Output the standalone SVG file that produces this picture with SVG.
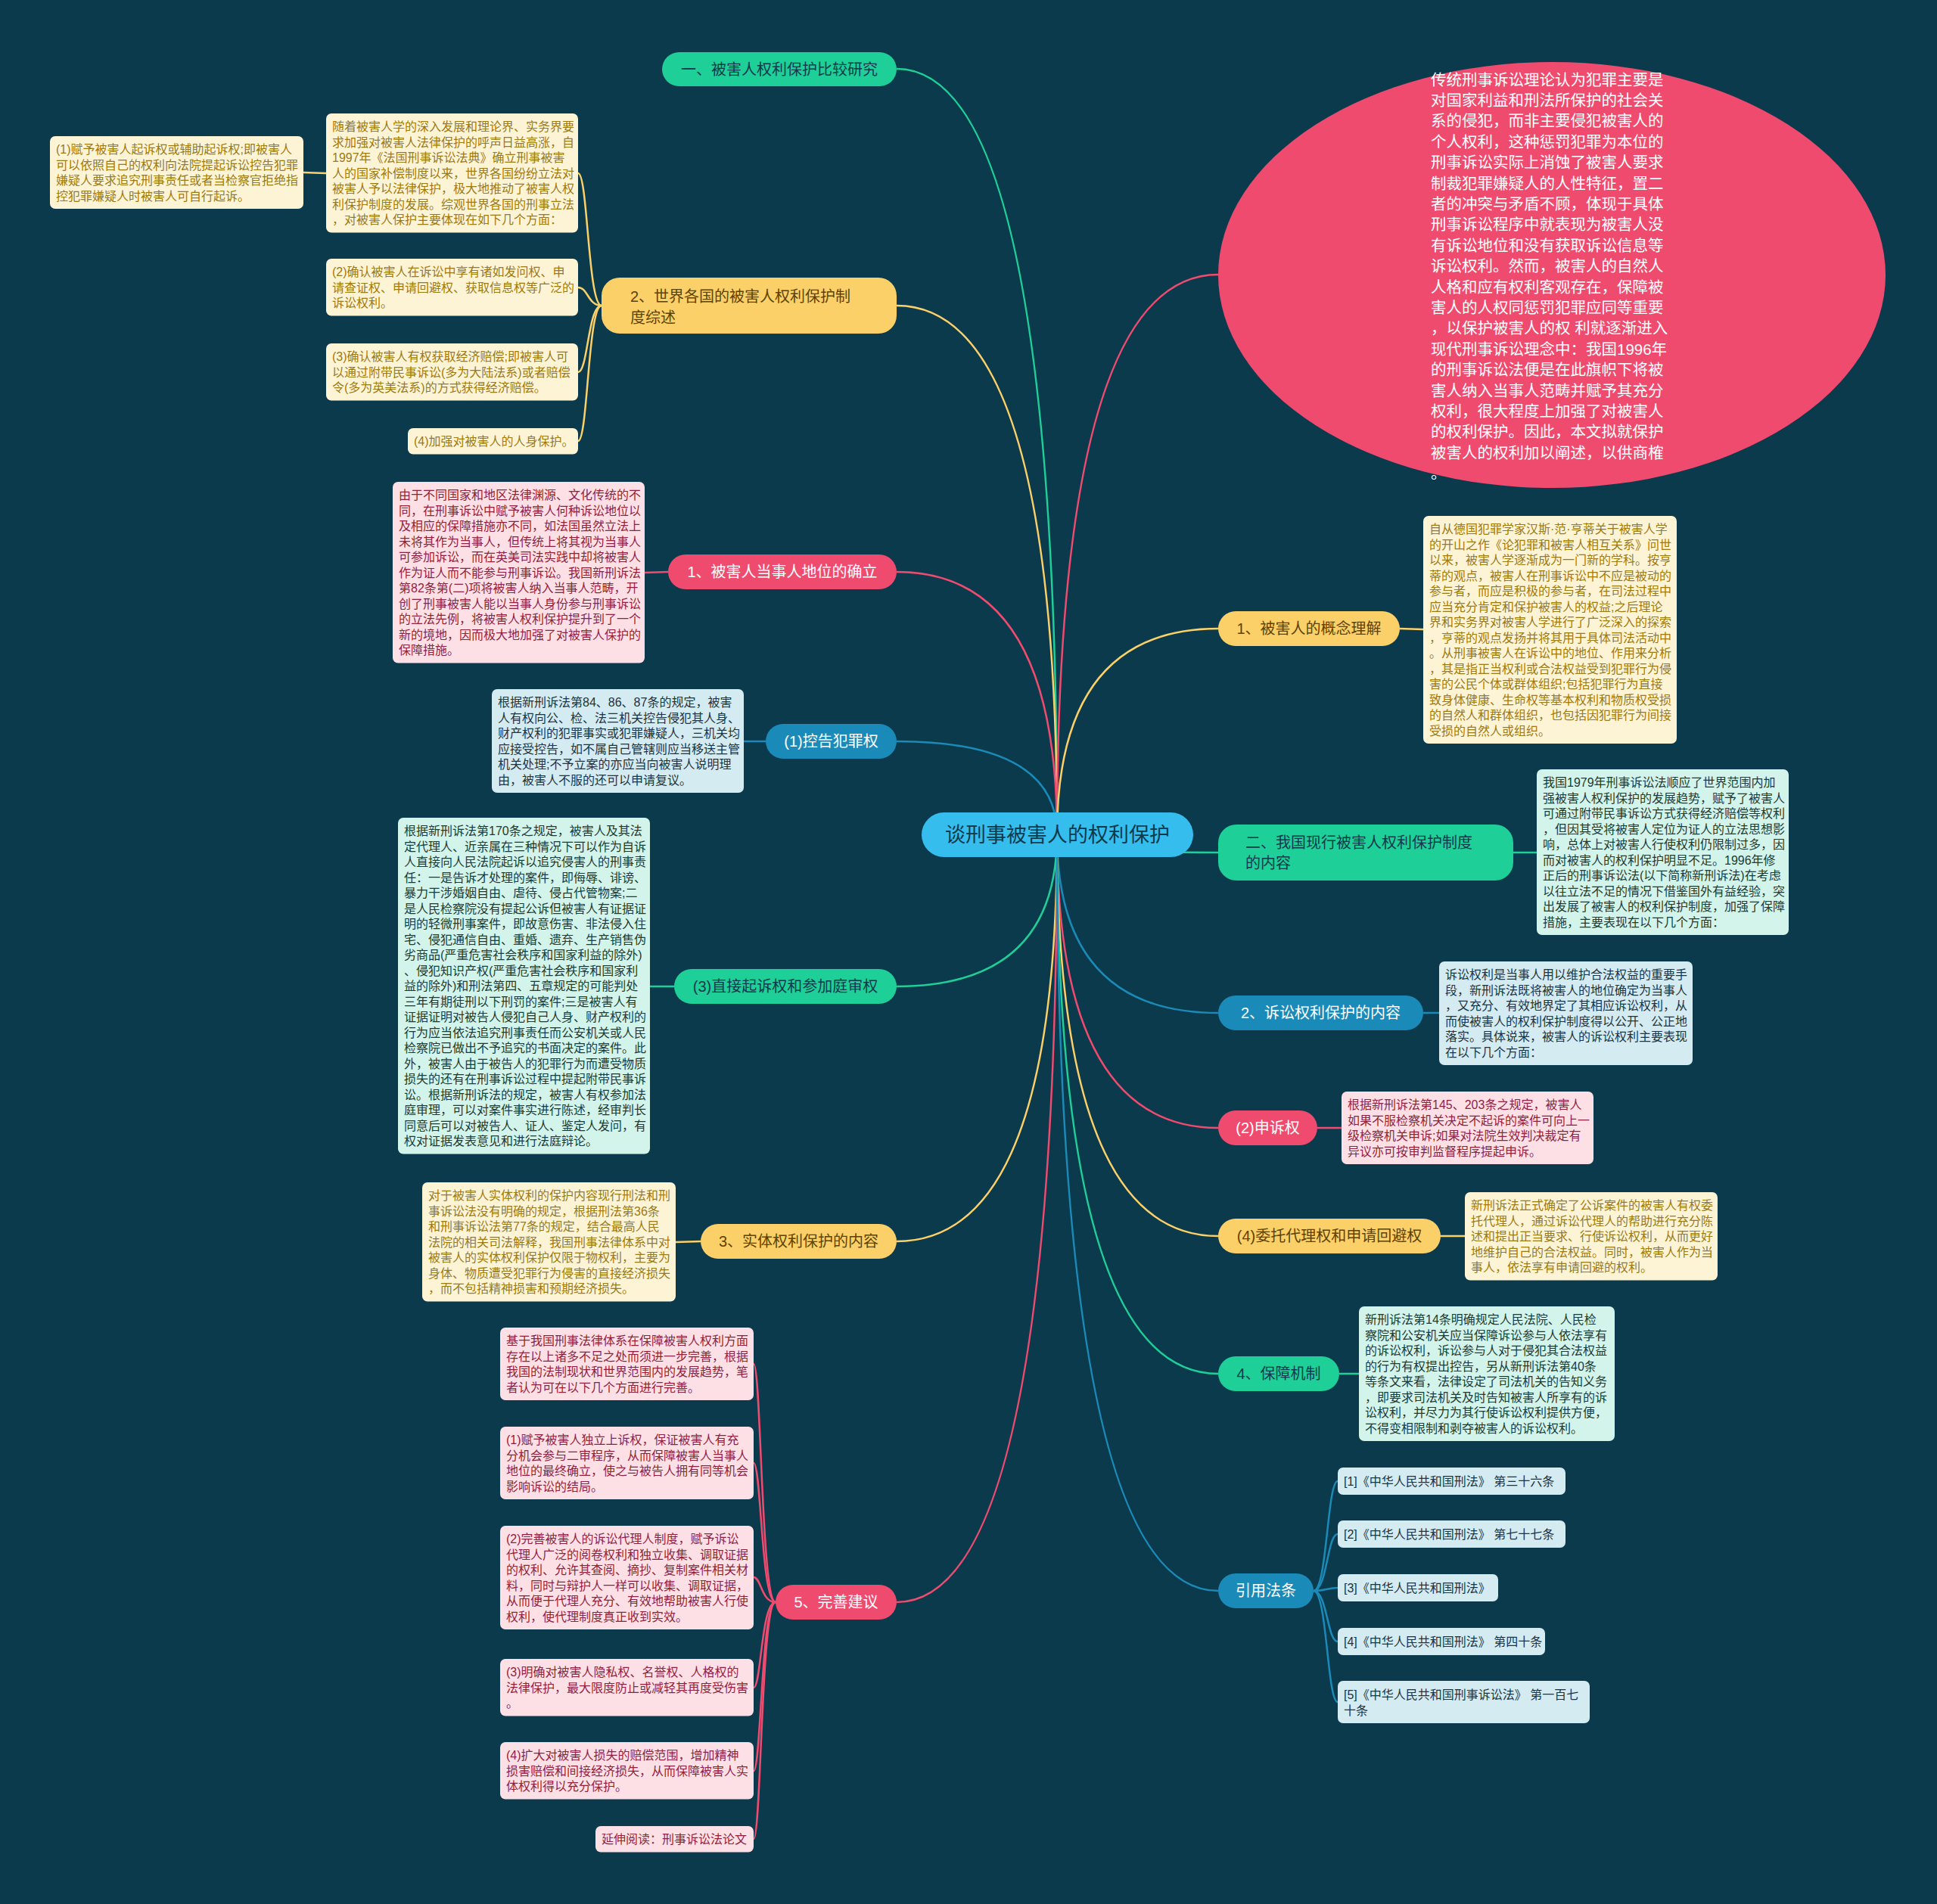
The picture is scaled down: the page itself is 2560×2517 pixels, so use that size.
<svg xmlns="http://www.w3.org/2000/svg" width="2560" height="2517" viewBox="0 0 2560 2517">
<style>
text{font-family:"Liberation Sans","Noto Sans CJK SC",sans-serif;dominant-baseline:central}
.lf{font-size:16px}
.nd{font-size:20px}
.c{fill:none;stroke-width:2.5}
.cP{stroke:#ef4b6f}.cY{stroke:#fcd068}.cG{stroke:#1fcf98}.cB{stroke:#1a8bb8}
.fP{fill:#ef4b6f}.fY{fill:#fcd068}.fG{fill:#1fcf98}.fB{fill:#1a8bb8}
.tW{fill:#ffffff}.tD{fill:#0d3b4c}.tY{fill:#5e4300}
.bC{fill:#fdf4d6}.bP{fill:#fde0e6}.bB{fill:#d4ebf2}.bG{fill:#d2f4ea}
.tC{fill:#9c7a12}.tP{fill:#8f1f40}.tB{fill:#1d3340}.tG{fill:#1d3a35}
</style>
<rect width="2560" height="2517" fill="#0b3a4d"/>

<g id="connectors">
<path class="c cG" d="M1397,1103 Q1397,91 1185,91"/>
<path class="c cY" d="M1397,1103 Q1397,404 1185,404"/>
<path class="c cP" d="M1397,1103 Q1397,756 1185,756"/>
<path class="c cB" d="M1397,1103 Q1397,980 1185,980"/>
<path class="c cG" d="M1397,1103 Q1397,1304 1185,1304"/>
<path class="c cY" d="M1397,1103 Q1397,1641 1185,1641"/>
<path class="c cP" d="M1397,1103 Q1397,2118 1185,2118"/>
<path class="c cP" d="M1397,1103 Q1397,363 1610,363"/>
<path class="c cY" d="M1397,1103 Q1397,831 1610,831"/>
<path class="c cG" d="M1397,1103 Q1397,1127 1610,1127"/>
<path class="c cB" d="M1397,1103 Q1397,1339 1610,1339"/>
<path class="c cP" d="M1397,1103 Q1397,1491 1610,1491"/>
<path class="c cY" d="M1397,1103 Q1397,1634 1610,1634"/>
<path class="c cG" d="M1397,1103 Q1397,1816 1610,1816"/>
<path class="c cB" d="M1397,1103 Q1397,2103 1610,2103"/>
<!-- 2、世界各国 bracket -->
<path class="c cY" d="M795,404 C777,404 777,229 764,229"/>
<path class="c cY" d="M795,404 C777,404 777,380 764,380"/>
<path class="c cY" d="M795,404 C777,404 777,492 764,492"/>
<path class="c cY" d="M795,404 C777,404 777,583 764,583"/>
<path class="c cY" d="M431,229 L401,228"/>
<!-- leaf lines -->
<path class="c cP" d="M883,756 L852,757"/>
<path class="c cB" d="M1012,980 L983,980"/>
<path class="c cG" d="M891,1304 L859,1304"/>
<path class="c cY" d="M926,1641 L893,1642"/>
<path class="c cY" d="M1850,831 L1881,832"/>
<path class="c cG" d="M2000,1127 L2031,1127"/>
<path class="c cB" d="M1881,1339 L1902,1339"/>
<path class="c cP" d="M1741,1491 L1773,1491"/>
<path class="c cY" d="M1904,1634 L1936,1634"/>
<path class="c cG" d="M1770,1816 L1796,1816"/>
<!-- 5、完善建议 bracket -->
<path class="c cP" d="M1025,2118 C1006,2118 1006,1803 996,1803"/>
<path class="c cP" d="M1025,2118 C1006,2118 1006,1934 996,1934"/>
<path class="c cP" d="M1025,2118 C1006,2118 1006,2085 996,2085"/>
<path class="c cP" d="M1025,2118 C1006,2118 1006,2231 996,2231"/>
<path class="c cP" d="M1025,2118 C1006,2118 1006,2341 996,2341"/>
<path class="c cP" d="M1025,2118 C1006,2118 1006,2431 996,2431"/>
<!-- 引用法条 bracket -->
<path class="c cB" d="M1736,2103 C1754,2103 1754,1958 1768,1958"/>
<path class="c cB" d="M1736,2103 C1754,2103 1754,2028 1768,2028"/>
<path class="c cB" d="M1736,2103 C1754,2103 1754,2099 1768,2099"/>
<path class="c cB" d="M1736,2103 C1754,2103 1754,2170 1768,2170"/>
<path class="c cB" d="M1736,2103 C1754,2103 1754,2250 1768,2250"/>
</g>

<g id="center">
<rect x="1218" y="1074" width="359" height="59" rx="29.5" fill="#35bdee"/>
<text x="1397.5" y="1103.5" font-size="27" text-anchor="middle" class="tD">谈刑事被害人的权利保护</text>
</g>

<g id="n-compare">
<rect x="875" y="69" width="310" height="45" rx="22.5" class="fG"/>
<text x="1030" y="91.5" class="nd tD" text-anchor="middle">一、被害人权利保护比较研究</text>
</g>
<g id="n-world">
<rect x="795" y="367" width="390" height="74" rx="24" class="fY"/>
<text class="nd tY"><tspan x="833" y="392">2、世界各国的被害人权利保护制</tspan><tspan x="833" y="420">度综述</tspan></text>
</g>
<g id="n-status">
<rect x="883" y="733" width="302" height="46" rx="23" class="fP"/>
<text x="1034" y="756" class="nd tW" text-anchor="middle">1、被害人当事人地位的确立</text>
</g>
<g id="n-accuse">
<rect x="1012" y="957" width="173" height="46" rx="23" class="fB"/>
<text x="1098.5" y="980" class="nd tW" text-anchor="middle">(1)控告犯罪权</text>
</g>
<g id="n-direct">
<rect x="891" y="1281" width="294" height="46" rx="23" class="fG"/>
<text x="1038" y="1304" class="nd tD" text-anchor="middle">(3)直接起诉权和参加庭审权</text>
</g>
<g id="n-substantive">
<rect x="926" y="1618" width="259" height="46" rx="23" class="fY"/>
<text x="1055.5" y="1641" class="nd tY" text-anchor="middle">3、实体权利保护的内容</text>
</g>
<g id="n-suggest">
<rect x="1025" y="2095" width="160" height="46" rx="23" class="fP"/>
<text x="1105" y="2118" class="nd tW" text-anchor="middle">5、完善建议</text>
</g>

<g id="n-intro">
<ellipse cx="2051" cy="363.5" rx="441" ry="281.5" class="fP"/>
<text font-size="20.5" class="tW">
<tspan x="1891" y="104.5">传统刑事诉讼理论认为犯罪主要是</tspan>
<tspan x="1891" y="131.9">对国家利益和刑法所保护的社会关</tspan>
<tspan x="1891" y="159.3">系的侵犯，而非主要侵犯被害人的</tspan>
<tspan x="1891" y="186.7">个人权利，这种惩罚犯罪为本位的</tspan>
<tspan x="1891" y="214.1">刑事诉讼实际上消蚀了被害人要求</tspan>
<tspan x="1891" y="241.5">制裁犯罪嫌疑人的人性特征，置二</tspan>
<tspan x="1891" y="268.9">者的冲突与矛盾不顾，体现于具体</tspan>
<tspan x="1891" y="296.3">刑事诉讼程序中就表现为被害人没</tspan>
<tspan x="1891" y="323.7">有诉讼地位和没有获取诉讼信息等</tspan>
<tspan x="1891" y="351.1">诉讼权利。然而，被害人的自然人</tspan>
<tspan x="1891" y="378.5">人格和应有权利客观存在，保障被</tspan>
<tspan x="1891" y="405.9">害人的人权同惩罚犯罪应同等重要</tspan>
<tspan x="1891" y="433.3">，以保护被害人的权 利就逐渐进入</tspan>
<tspan x="1891" y="460.7">现代刑事诉讼理念中：我国1996年</tspan>
<tspan x="1891" y="488.1">的刑事诉讼法便是在此旗帜下将被</tspan>
<tspan x="1891" y="515.5">害人纳入当事人范畴并赋予其充分</tspan>
<tspan x="1891" y="542.9">权利，很大程度上加强了对被害人</tspan>
<tspan x="1891" y="570.3">的权利保护。因此，本文拟就保护</tspan>
<tspan x="1891" y="597.7">被害人的权利加以阐述，以供商榷</tspan>
<tspan x="1891" y="625.1">。</tspan>
</text>
</g>
<g id="n-concept">
<rect x="1610" y="808" width="240" height="46" rx="23" class="fY"/>
<text x="1730" y="831" class="nd tY" text-anchor="middle">1、被害人的概念理解</text>
</g>
<g id="n-current">
<rect x="1610" y="1090" width="390" height="74" rx="24" class="fG"/>
<text class="nd tD"><tspan x="1646" y="1113.5">二、我国现行被害人权利保护制度</tspan><tspan x="1646" y="1141">的内容</tspan></text>
</g>
<g id="n-procedural">
<rect x="1610" y="1316" width="271" height="46" rx="23" class="fB"/>
<text x="1745.5" y="1339" class="nd tW" text-anchor="middle">2、诉讼权利保护的内容</text>
</g>
<g id="n-appeal">
<rect x="1610" y="1468" width="131" height="46" rx="23" class="fP"/>
<text x="1675.5" y="1491" class="nd tW" text-anchor="middle">(2)申诉权</text>
</g>
<g id="n-agent">
<rect x="1610" y="1611" width="294" height="46" rx="23" class="fY"/>
<text x="1757" y="1634" class="nd tY" text-anchor="middle">(4)委托代理权和申请回避权</text>
</g>
<g id="n-guarantee">
<rect x="1610" y="1793" width="160" height="46" rx="23" class="fG"/>
<text x="1690" y="1816" class="nd tD" text-anchor="middle">4、保障机制</text>
</g>
<g id="n-refs">
<rect x="1610" y="2080" width="126" height="46" rx="23" class="fB"/>
<text x="1673" y="2103" class="nd tW" text-anchor="middle">引用法条</text>
</g>

<!-- leaves left -->
<g id="l-world-1">
<rect x="66" y="180" width="335" height="96" rx="7" class="bC"/>
<text class="lf tC">
<tspan x="74" y="197.25">(1)赋予被害人起诉权或辅助起诉权;即被害人</tspan>
<tspan x="74" y="217.75">可以依照自己的权利向法院提起诉讼控告犯罪</tspan>
<tspan x="74" y="238.25">嫌疑人要求追究刑事责任或者当检察官拒绝指</tspan>
<tspan x="74" y="258.75">控犯罪嫌疑人时被害人可自行起诉。</tspan>
</text>
</g>
<g id="l-world-intro">
<rect x="431" y="150" width="333" height="157.5" rx="7" class="bC"/>
<text class="lf tC">
<tspan x="439" y="167.25">随着被害人学的深入发展和理论界、实务界要</tspan>
<tspan x="439" y="187.75">求加强对被害人法律保护的呼声日益高涨，自</tspan>
<tspan x="439" y="208.25">1997年《法国刑事诉讼法典》确立刑事被害</tspan>
<tspan x="439" y="228.75">人的国家补偿制度以来，世界各国纷纷立法对</tspan>
<tspan x="439" y="249.25">被害人予以法律保护，极大地推动了被害人权</tspan>
<tspan x="439" y="269.75">利保护制度的发展。综观世界各国的刑事立法</tspan>
<tspan x="439" y="290.25">，对被害人保护主要体现在如下几个方面：</tspan>
</text>
</g>
<g id="l-world-2">
<rect x="431" y="342" width="333" height="75.5" rx="7" class="bC"/>
<text class="lf tC">
<tspan x="439" y="359.25">(2)确认被害人在诉讼中享有诸如发问权、申</tspan>
<tspan x="439" y="379.75">请查证权、申请回避权、获取信息权等广泛的</tspan>
<tspan x="439" y="400.25">诉讼权利。</tspan>
</text>
</g>
<g id="l-world-3">
<rect x="431" y="454" width="333" height="75.5" rx="7" class="bC"/>
<text class="lf tC">
<tspan x="439" y="471.25">(3)确认被害人有权获取经济赔偿;即被害人可</tspan>
<tspan x="439" y="491.75">以通过附带民事诉讼(多为大陆法系)或者赔偿</tspan>
<tspan x="439" y="512.25">令(多为英美法系)的方式获得经济赔偿。</tspan>
</text>
</g>
<g id="l-world-4">
<rect x="539" y="566" width="225" height="34.5" rx="7" class="bC"/>
<text class="lf tC"><tspan x="547" y="583.25">(4)加强对被害人的人身保护。</tspan></text>
</g>
<g id="l-status">
<rect x="519" y="637" width="333" height="239.5" rx="7" class="bP"/>
<text class="lf tP">
<tspan x="527" y="654.25">由于不同国家和地区法律渊源、文化传统的不</tspan>
<tspan x="527" y="674.75">同，在刑事诉讼中赋予被害人何种诉讼地位以</tspan>
<tspan x="527" y="695.25">及相应的保障措施亦不同，如法国虽然立法上</tspan>
<tspan x="527" y="715.75">未将其作为当事人，但传统上将其视为当事人</tspan>
<tspan x="527" y="736.25">可参加诉讼，而在英美司法实践中却将被害人</tspan>
<tspan x="527" y="756.75">作为证人而不能参与刑事诉讼。我国新刑诉法</tspan>
<tspan x="527" y="777.25">第82条第(二)项将被害人纳入当事人范畴，开</tspan>
<tspan x="527" y="797.75">创了刑事被害人能以当事人身份参与刑事诉讼</tspan>
<tspan x="527" y="818.25">的立法先例，将被害人权利保护提升到了一个</tspan>
<tspan x="527" y="838.75">新的境地，因而极大地加强了对被害人保护的</tspan>
<tspan x="527" y="859.25">保障措施。</tspan>
</text>
</g>
<g id="l-accuse">
<rect x="650" y="911" width="333" height="137" rx="7" class="bB"/>
<text class="lf tB">
<tspan x="658" y="928.25">根据新刑诉法第84、86、87条的规定，被害</tspan>
<tspan x="658" y="948.75">人有权向公、检、法三机关控告侵犯其人身、</tspan>
<tspan x="658" y="969.25">财产权利的犯罪事实或犯罪嫌疑人，三机关均</tspan>
<tspan x="658" y="989.75">应接受控告，如不属自己管辖则应当移送主管</tspan>
<tspan x="658" y="1010.25">机关处理;不予立案的亦应当向被害人说明理</tspan>
<tspan x="658" y="1030.75">由，被害人不服的还可以申请复议。</tspan>
</text>
</g>
<g id="l-direct">
<rect x="526" y="1081" width="333" height="444.5" rx="7" class="bG"/>
<text class="lf tG">
<tspan x="534" y="1098.25">根据新刑诉法第170条之规定，被害人及其法</tspan>
<tspan x="534" y="1118.75">定代理人、近亲属在三种情况下可以作为自诉</tspan>
<tspan x="534" y="1139.25">人直接向人民法院起诉以追究侵害人的刑事责</tspan>
<tspan x="534" y="1159.75">任：一是告诉才处理的案件，即侮辱、诽谤、</tspan>
<tspan x="534" y="1180.25">暴力干涉婚姻自由、虐待、侵占代管物案;二</tspan>
<tspan x="534" y="1200.75">是人民检察院没有提起公诉但被害人有证据证</tspan>
<tspan x="534" y="1221.25">明的轻微刑事案件，即故意伤害、非法侵入住</tspan>
<tspan x="534" y="1241.75">宅、侵犯通信自由、重婚、遗弃、生产销售伪</tspan>
<tspan x="534" y="1262.25">劣商品(严重危害社会秩序和国家利益的除外)</tspan>
<tspan x="534" y="1282.75">、侵犯知识产权(严重危害社会秩序和国家利</tspan>
<tspan x="534" y="1303.25">益的除外)和刑法第四、五章规定的可能判处</tspan>
<tspan x="534" y="1323.75">三年有期徒刑以下刑罚的案件;三是被害人有</tspan>
<tspan x="534" y="1344.25">证据证明对被告人侵犯自己人身、财产权利的</tspan>
<tspan x="534" y="1364.75">行为应当依法追究刑事责任而公安机关或人民</tspan>
<tspan x="534" y="1385.25">检察院已做出不予追究的书面决定的案件。此</tspan>
<tspan x="534" y="1405.75">外，被害人由于被告人的犯罪行为而遭受物质</tspan>
<tspan x="534" y="1426.25">损失的还有在刑事诉讼过程中提起附带民事诉</tspan>
<tspan x="534" y="1446.75">讼。根据新刑诉法的规定，被害人有权参加法</tspan>
<tspan x="534" y="1467.25">庭审理，可以对案件事实进行陈述，经审判长</tspan>
<tspan x="534" y="1487.75">同意后可以对被告人、证人、鉴定人发问，有</tspan>
<tspan x="534" y="1508.25">权对证据发表意见和进行法庭辩论。</tspan>
</text>
</g>
<g id="l-substantive">
<rect x="558" y="1563" width="335" height="157.5" rx="7" class="bC"/>
<text class="lf tC">
<tspan x="566" y="1580.25">对于被害人实体权利的保护内容现行刑法和刑</tspan>
<tspan x="566" y="1600.75">事诉讼法没有明确的规定，根据刑法第36条</tspan>
<tspan x="566" y="1621.25">和刑事诉讼法第77条的规定，结合最高人民</tspan>
<tspan x="566" y="1641.75">法院的相关司法解释，我国刑事法律体系中对</tspan>
<tspan x="566" y="1662.25">被害人的实体权利保护仅限于物权利，主要为</tspan>
<tspan x="566" y="1682.75">身体、物质遭受犯罪行为侵害的直接经济损失</tspan>
<tspan x="566" y="1703.25">，而不包括精神损害和预期经济损失。</tspan>
</text>
</g>
<g id="l-suggest-intro">
<rect x="661" y="1755" width="335" height="96" rx="7" class="bP"/>
<text class="lf tP">
<tspan x="669" y="1772.25">基于我国刑事法律体系在保障被害人权利方面</tspan>
<tspan x="669" y="1792.75">存在以上诸多不足之处而须进一步完善，根据</tspan>
<tspan x="669" y="1813.25">我国的法制现状和世界范围内的发展趋势，笔</tspan>
<tspan x="669" y="1833.75">者认为可在以下几个方面进行完善。</tspan>
</text>
</g>
<g id="l-suggest-1">
<rect x="661" y="1886" width="335" height="96" rx="7" class="bP"/>
<text class="lf tP">
<tspan x="669" y="1903.25">(1)赋予被害人独立上诉权，保证被害人有充</tspan>
<tspan x="669" y="1923.75">分机会参与二审程序，从而保障被害人当事人</tspan>
<tspan x="669" y="1944.25">地位的最终确立，使之与被告人拥有同等机会</tspan>
<tspan x="669" y="1964.75">影响诉讼的结局。</tspan>
</text>
</g>
<g id="l-suggest-2">
<rect x="661" y="2017" width="335" height="137" rx="7" class="bP"/>
<text class="lf tP">
<tspan x="669" y="2034.25">(2)完善被害人的诉讼代理人制度，赋予诉讼</tspan>
<tspan x="669" y="2054.75">代理人广泛的阅卷权利和独立收集、调取证据</tspan>
<tspan x="669" y="2075.25">的权利、允许其查阅、摘抄、复制案件相关材</tspan>
<tspan x="669" y="2095.75">料，同时与辩护人一样可以收集、调取证据，</tspan>
<tspan x="669" y="2116.25">从而便于代理人充分、有效地帮助被害人行使</tspan>
<tspan x="669" y="2136.75">权利，使代理制度真正收到实效。</tspan>
</text>
</g>
<g id="l-suggest-3">
<rect x="661" y="2193" width="335" height="75.5" rx="7" class="bP"/>
<text class="lf tP">
<tspan x="669" y="2210.25">(3)明确对被害人隐私权、名誉权、人格权的</tspan>
<tspan x="669" y="2230.75">法律保护，最大限度防止或减轻其再度受伤害</tspan>
<tspan x="669" y="2251.25">。</tspan>
</text>
</g>
<g id="l-suggest-4">
<rect x="661" y="2303" width="335" height="75.5" rx="7" class="bP"/>
<text class="lf tP">
<tspan x="669" y="2320.25">(4)扩大对被害人损失的赔偿范围，增加精神</tspan>
<tspan x="669" y="2340.75">损害赔偿和间接经济损失，从而保障被害人实</tspan>
<tspan x="669" y="2361.25">体权利得以充分保护。</tspan>
</text>
</g>
<g id="l-suggest-5">
<rect x="787" y="2414" width="209" height="34.5" rx="7" class="bP"/>
<text class="lf tP"><tspan x="795" y="2431.25">延伸阅读：刑事诉讼法论文</tspan></text>
</g>

<!-- leaves right -->
<g id="l-concept">
<rect x="1881" y="682" width="335" height="301" rx="7" class="bC"/>
<text class="lf tC">
<tspan x="1889" y="699.25">自从德国犯罪学家汉斯·范·亨蒂关于被害人学</tspan>
<tspan x="1889" y="719.75">的开山之作《论犯罪和被害人相互关系》问世</tspan>
<tspan x="1889" y="740.25">以来，被害人学逐渐成为一门新的学科。按亨</tspan>
<tspan x="1889" y="760.75">蒂的观点，被害人在刑事诉讼中不应是被动的</tspan>
<tspan x="1889" y="781.25">参与者，而应是积极的参与者，在司法过程中</tspan>
<tspan x="1889" y="801.75">应当充分肯定和保护被害人的权益;之后理论</tspan>
<tspan x="1889" y="822.25">界和实务界对被害人学进行了广泛深入的探索</tspan>
<tspan x="1889" y="842.75">，亨蒂的观点发扬并将其用于具体司法活动中</tspan>
<tspan x="1889" y="863.25">。从刑事被害人在诉讼中的地位、作用来分析</tspan>
<tspan x="1889" y="883.75">，其是指正当权利或合法权益受到犯罪行为侵</tspan>
<tspan x="1889" y="904.25">害的公民个体或群体组织;包括犯罪行为直接</tspan>
<tspan x="1889" y="924.75">致身体健康、生命权等基本权利和物质权受损</tspan>
<tspan x="1889" y="945.25">的自然人和群体组织，也包括因犯罪行为间接</tspan>
<tspan x="1889" y="965.75">受损的自然人或组织。</tspan>
</text>
</g>
<g id="l-current">
<rect x="2031" y="1017" width="333" height="219" rx="7" class="bG"/>
<text class="lf tG">
<tspan x="2039" y="1034.25">我国1979年刑事诉讼法顺应了世界范围内加</tspan>
<tspan x="2039" y="1054.75">强被害人权利保护的发展趋势，赋予了被害人</tspan>
<tspan x="2039" y="1075.25">可通过附带民事诉讼方式获得经济赔偿等权利</tspan>
<tspan x="2039" y="1095.75">，但因其受将被害人定位为证人的立法思想影</tspan>
<tspan x="2039" y="1116.25">响，总体上对被害人行使权利仍限制过多，因</tspan>
<tspan x="2039" y="1136.75">而对被害人的权利保护明显不足。1996年修</tspan>
<tspan x="2039" y="1157.25">正后的刑事诉讼法(以下简称新刑诉法)在考虑</tspan>
<tspan x="2039" y="1177.75">以往立法不足的情况下借鉴国外有益经验，突</tspan>
<tspan x="2039" y="1198.25">出发展了被害人的权利保护制度，加强了保障</tspan>
<tspan x="2039" y="1218.75">措施，主要表现在以下几个方面：</tspan>
</text>
</g>
<g id="l-procedural">
<rect x="1902" y="1271" width="335" height="137" rx="7" class="bB"/>
<text class="lf tB">
<tspan x="1910" y="1288.25">诉讼权利是当事人用以维护合法权益的重要手</tspan>
<tspan x="1910" y="1308.75">段，新刑诉法既将被害人的地位确定为当事人</tspan>
<tspan x="1910" y="1329.25">，又充分、有效地界定了其相应诉讼权利，从</tspan>
<tspan x="1910" y="1349.75">而使被害人的权利保护制度得以公开、公正地</tspan>
<tspan x="1910" y="1370.25">落实。具体说来，被害人的诉讼权利主要表现</tspan>
<tspan x="1910" y="1390.75">在以下几个方面：</tspan>
</text>
</g>
<g id="l-appeal">
<rect x="1773" y="1443" width="333" height="96" rx="7" class="bP"/>
<text class="lf tP">
<tspan x="1781" y="1460.25">根据新刑诉法第145、203条之规定，被害人</tspan>
<tspan x="1781" y="1480.75">如果不服检察机关决定不起诉的案件可向上一</tspan>
<tspan x="1781" y="1501.25">级检察机关申诉;如果对法院生效判决裁定有</tspan>
<tspan x="1781" y="1521.75">异议亦可按审判监督程序提起申诉。</tspan>
</text>
</g>
<g id="l-agent">
<rect x="1936" y="1576" width="334" height="116.5" rx="7" class="bC"/>
<text class="lf tC">
<tspan x="1944" y="1593.25">新刑诉法正式确定了公诉案件的被害人有权委</tspan>
<tspan x="1944" y="1613.75">托代理人，通过诉讼代理人的帮助进行充分陈</tspan>
<tspan x="1944" y="1634.25">述和提出正当要求、行使诉讼权利，从而更好</tspan>
<tspan x="1944" y="1654.75">地维护自己的合法权益。同时，被害人作为当</tspan>
<tspan x="1944" y="1675.25">事人，依法享有申请回避的权利。</tspan>
</text>
</g>
<g id="l-guarantee">
<rect x="1796" y="1727" width="338" height="178" rx="7" class="bG"/>
<text class="lf tG">
<tspan x="1804" y="1744.25">新刑诉法第14条明确规定人民法院、人民检</tspan>
<tspan x="1804" y="1764.75">察院和公安机关应当保障诉讼参与人依法享有</tspan>
<tspan x="1804" y="1785.25">的诉讼权利，诉讼参与人对于侵犯其合法权益</tspan>
<tspan x="1804" y="1805.75">的行为有权提出控告，另从新刑诉法第40条</tspan>
<tspan x="1804" y="1826.25">等条文来看，法律设定了司法机关的告知义务</tspan>
<tspan x="1804" y="1846.75">，即要求司法机关及时告知被害人所享有的诉</tspan>
<tspan x="1804" y="1867.25">讼权利，并尽力为其行使诉讼权利提供方便，</tspan>
<tspan x="1804" y="1887.75">不得变相限制和剥夺被害人的诉讼权利。</tspan>
</text>
</g>
<g id="l-ref-1">
<rect x="1768" y="1940" width="301" height="36" rx="7" class="bB"/>
<text class="lf tB"><tspan x="1776" y="1958">[1]《中华人民共和国刑法》 第三十六条</tspan></text>
</g>
<g id="l-ref-2">
<rect x="1768" y="2010" width="301" height="36" rx="7" class="bB"/>
<text class="lf tB"><tspan x="1776" y="2028">[2]《中华人民共和国刑法》 第七十七条</tspan></text>
</g>
<g id="l-ref-3">
<rect x="1768" y="2081" width="212" height="36" rx="7" class="bB"/>
<text class="lf tB"><tspan x="1776" y="2099">[3]《中华人民共和国刑法》</tspan></text>
</g>
<g id="l-ref-4">
<rect x="1768" y="2152" width="274" height="36" rx="7" class="bB"/>
<text class="lf tB"><tspan x="1776" y="2170">[4]《中华人民共和国刑法》 第四十条</tspan></text>
</g>
<g id="l-ref-5">
<rect x="1768" y="2222" width="333" height="56" rx="7" class="bB"/>
<text class="lf tB">
<tspan x="1776" y="2240">[5]《中华人民共和国刑事诉讼法》 第一百七</tspan>
<tspan x="1776" y="2261">十条</tspan>
</text>
</g>
</svg>
